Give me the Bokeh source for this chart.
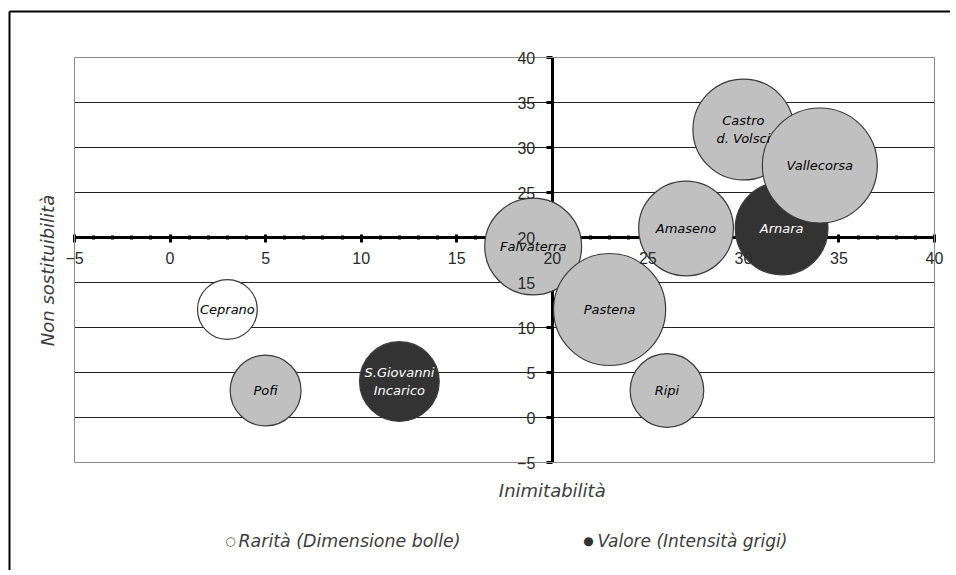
import math
from bokeh.plotting import figure
from bokeh.models import (ColumnDataSource, Range1d, LinearAxis, FixedTicker, Label,
                          BoxAnnotation, Arrow)
from bokeh.core.properties import value
from bokeh.embed import file_html
from bokeh.resources import INLINE

# ---- data ----
comuni = ["Falvaterra", "Pastena", "Ripi", "Amaseno", "Castro\nd. Volsci",
          "Arnara", "Vallecorsa", "Ceprano", "Pofi", "S.Giovanni\nIncarico"]
inimitabilita = [19, 23, 26, 27, 30, 32, 34, 3, 5, 12]
non_sostituibilita = [19, 12, 3, 21, 32, 21, 28, 12, 3, 4]
rarita = [7.1, 9.5, 4.1, 6.8, 7.7, 6.5, 10.0, 2.7, 3.8, 4.8]
valore = [2, 2, 2, 2, 2, 3, 2, 1, 2, 3]
x_ticks = [-5, 0, 5, 10, 15, 20, 25, 30, 35, 40]
y_ticks = [-5, 0, 5, 10, 15, 20, 25, 30, 35, 40]
x_minor = list(range(-5, 41))
legend_labels = ["Rarità (Dimensione  bolle)", "Valore (Intensità grigi)"]
x_title = "Inimitabilità"
y_title = "Non sostituibilità"

# ---- layout / styles ----
XMIN, XMAX = x_ticks[0], x_ticks[-1]
YMIN, YMAX = y_ticks[0], y_ticks[-1]
W, H = 950, 570
PLOT_L, PLOT_R, PLOT_T, PLOT_B = 74, 16, 57, 108      # px margins around plot area
PPX = (W - PLOT_L - PLOT_R) / (XMAX - XMIN)
PPY = (H - PLOT_T - PLOT_B) / (YMAX - YMIN)


def dx(px):   # px from plot-area left -> data x
    return XMIN + px / PPX


def dy(px):   # px below plot-area top -> data y
    return YMAX - px / PPY


MAX_D = 115
FILL = {1: "#ffffff", 2: "#c0c0c0", 3: "#333333"}
TXT = {1: "#000000", 2: "#000000", 3: "#ffffff"}
rmax = max(rarita)
src = ColumnDataSource(dict(
    x=inimitabilita, y=non_sostituibilita, name=comuni,
    size=[MAX_D * math.sqrt(r / rmax) for r in rarita],
    fill=[FILL[v] for v in valore], tcol=[TXT[v] for v in valore],
))

p = figure(width=W, height=H,
           x_range=Range1d(XMIN - PLOT_L / PPX, XMAX + PLOT_R / PPX),
           y_range=Range1d(YMIN - PLOT_B / PPY, YMAX + PLOT_T / PPY),
           output_backend="svg", toolbar_location=None,
           x_axis_type=None, y_axis_type=None,
           min_border_left=0, min_border_right=0, min_border_top=0, min_border_bottom=0)
p.outline_line_color = None
p.background_fill_color = "white"
p.border_fill_color = "white"

# outer chart border (left/top visible, right/bottom beyond the window)
BL, BT = dx(-65), dy(-46)
p.add_layout(Arrow(x_start=BL, y_start=BT, x_end=BL, y_end=dy(H), end=None,
                   line_color="black", line_width=2))
p.add_layout(Arrow(x_start=BL, y_start=BT, x_end=dx(W), y_end=BT, end=None,
                   line_color="black", line_width=2))
# plot area border
p.add_layout(BoxAnnotation(left=XMIN, right=XMAX, top=YMAX, bottom=YMIN, fill_color=None,
                           fill_alpha=0, line_color="#8a8a8a", line_alpha=1, line_width=1,
                           level="underlay"))

# horizontal gridlines
n_inner = len(y_ticks) - 2
gsrc = ColumnDataSource(dict(y=y_ticks[1:-1], x0=[XMIN] * n_inner, x1=[XMAX] * n_inner))
p.segment(x0="x0", x1="x1", y0="y", y1="y", source=gsrc, line_color="#222222", line_width=1,
          level="underlay")

tick_font = "Liberation Sans"
# axis lines (under bubbles)
xa = LinearAxis(fixed_location=20, bounds=(XMIN, XMAX),
                ticker=FixedTicker(ticks=x_ticks, minor_ticks=x_minor),
                axis_line_width=3, axis_line_color="black",
                major_tick_line_width=3, major_tick_line_color="black", major_tick_in=3, major_tick_out=5,
                minor_tick_line_width=3, minor_tick_line_color="black", minor_tick_in=2, minor_tick_out=2,
                major_label_text_alpha=0, major_label_standoff=9,
                major_label_text_font=tick_font, major_label_text_font_size="16px")
xa.level = "underlay"
ya = LinearAxis(fixed_location=20, bounds=(YMIN, YMAX), ticker=FixedTicker(ticks=y_ticks),
                axis_line_width=3, axis_line_color="black",
                major_tick_line_width=3, major_tick_line_color="black", major_tick_in=0, major_tick_out=6,
                minor_tick_line_color=None,
                major_label_text_alpha=0, major_label_standoff=11,
                major_label_text_font=tick_font, major_label_text_font_size="16px")
ya.level = "underlay"
p.add_layout(xa, "below")
p.add_layout(ya, "left")

# tick labels (over bubbles)
xb = LinearAxis(fixed_location=20, bounds=(XMIN, XMAX), ticker=FixedTicker(ticks=x_ticks),
                axis_line_color=None, major_tick_line_color=None, minor_tick_line_color=None,
                major_tick_in=3, major_tick_out=5, major_label_standoff=9,
                major_label_text_font=tick_font, major_label_text_font_size="16px",
                major_label_text_color="#2a2a2a")
yb = LinearAxis(fixed_location=20, bounds=(YMIN, YMAX), ticker=FixedTicker(ticks=y_ticks),
                axis_line_color=None, major_tick_line_color=None, minor_tick_line_color=None,
                major_tick_in=0, major_tick_out=6, major_label_standoff=11,
                major_label_text_font=tick_font, major_label_text_font_size="16px",
                major_label_text_color="#2a2a2a")
p.add_layout(xb, "below")
p.add_layout(yb, "left")

# bubbles
p.scatter("x", "y", size="size", source=src, fill_color="fill", line_color="#3a3a3a",
          line_width=1.2)
p.text("x", "y", text="name", source=src, text_align="center", text_baseline="middle",
       text_font=value("DejaVu Sans"), text_font_style="italic", text_font_size="13px",
       text_color="tcol", text_line_height=1.2)

title_style = dict(text_font="DejaVu Sans", text_font_style="italic", text_color="#3c3c3c")
p.add_layout(Label(x=20, y=dy(433), text=x_title, text_align="center", text_baseline="middle",
                   text_font_size="18px", **title_style))
p.add_layout(Label(x=dx(-27), y=dy(213), text=y_title, angle=math.pi / 2,
                   text_align="center", text_baseline="middle",
                   text_font_size="18px", **title_style))

# legend
LEG_Y = dy(483)
p.add_layout(Label(x=dx(156), y=LEG_Y, text="○", text_align="center", text_baseline="middle",
                   text_font="DejaVu Sans", text_font_size="12px", text_color="#555555"))
p.add_layout(Label(x=dx(164), y=LEG_Y, text=legend_labels[0], text_align="left", text_baseline="middle",
                   text_font_size="17.4px", **title_style))
p.add_layout(Label(x=dx(514), y=LEG_Y, text="●", text_align="center", text_baseline="middle",
                   text_font="DejaVu Sans", text_font_size="12px", text_color="#333333"))
p.add_layout(Label(x=dx(523), y=LEG_Y, text=legend_labels[1], text_align="left", text_baseline="middle",
                   text_font_size="17px", **title_style))

open("out.html", "w").write(file_html(p, INLINE))
